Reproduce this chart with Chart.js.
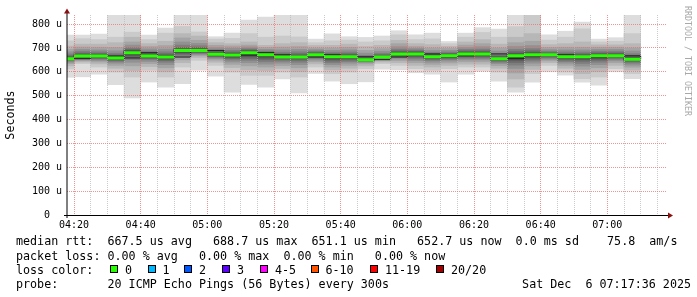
<!DOCTYPE html>
<html>
<head>
<meta charset="utf-8">
<script src="https://cdn.jsdelivr.net/npm/chart.js@4.4.1/dist/chart.umd.min.js"></script>
<style>
  body { margin: 0; background: #fff; overflow: hidden; }
  #wrap { position: relative; width: 697px; height: 297px; background: #fff; }
  #chart { position: absolute; left: 0; top: 0; }
  .txt { position: absolute; font-family: "DejaVu Sans Mono", monospace; font-size: 11.7px;
         line-height: 14px; color: #000; white-space: pre; }
  .box { position: absolute; width: 8px; height: 8px; box-sizing: border-box; border: 1px solid #000; }
  #mark { position: absolute; left: 683px; top: 6px; writing-mode: vertical-rl;
          font-family: "DejaVu Sans Mono", monospace; font-size: 8.3px; line-height: 9px; color: #a8a8a8; white-space: pre; }
</style>
</head>
<body>
<div id="wrap">
  <canvas id="chart" width="697" height="297"></canvas>
  <div id="mark">RRDTOOL / TOBI OETIKER</div>
  <div id="legend"></div>
</div>
<script>
// end time of each 5 minute sample (the bar covers the 5 minutes before it)
const times = ['04:20','04:25','04:30','04:35','04:40','04:45','04:50','04:55',
  '05:00','05:05','05:10','05:15','05:20','05:25','05:30','05:35','05:40','05:45','05:50','05:55',
  '06:00','06:05','06:10','06:15','06:20','06:25','06:30','06:35','06:40','06:45','06:50','06:55',
  '07:00','07:05','07:10'];

// median rtt per sample (microseconds)
const medians = [655,666,666,658,680,666,662,689,689,674,670,680,671,662,662,671,663,663,651,662,
  675,675,663,667,675,675,655,667,671,671,663,663,667,667,653];

// the 20 sorted ping times per sample (microseconds)
const pings = [
  [577,612,625,634,640,645,649,651,653,654,656,659,663,668,675,684,695,708,730,754],
  [579,634,641,646,650,654,657,660,663,665,667,670,674,679,686,694,704,716,739,754],
  [590,620,633,641,647,652,656,659,663,665,667,670,673,678,684,692,703,716,735,758],
  [546,599,615,627,636,642,647,651,654,657,659,662,666,671,678,688,702,722,745,905],
  [491,578,605,625,640,651,660,667,673,678,682,686,690,695,702,712,725,745,766,950],
  [557,606,622,634,643,650,655,659,663,666,668,671,675,680,687,696,706,718,735,754],
  [536,578,600,617,630,640,647,653,658,661,663,666,670,676,684,695,710,728,762,783],
  [550,620,638,650,660,667,673,678,683,688,690,693,697,703,712,725,742,760,790,880],
  [607,648,660,667,672,676,680,683,686,688,690,693,697,702,709,719,732,750,767,900],
  [582,627,640,649,655,660,664,667,670,673,675,678,682,687,693,701,711,722,737,747],
  [515,599,618,631,641,649,655,660,665,669,671,674,678,683,690,699,708,718,740,762],
  [547,585,608,625,638,648,656,663,670,679,681,685,688,692,697,704,712,725,760,817],
  [536,585,605,620,632,642,650,657,663,670,672,675,678,682,687,694,702,711,745,829],
  [570,599,614,626,636,644,650,655,659,661,663,666,670,675,682,692,704,718,750,870],
  [511,578,600,617,630,640,648,654,658,661,663,666,670,676,684,694,706,722,746,860],
  [593,620,633,642,649,655,660,664,668,670,672,675,678,682,687,693,700,710,722,737],
  [561,592,608,620,630,638,645,651,656,662,664,667,671,676,682,690,700,711,730,759],
  [550,599,615,627,636,643,649,654,658,662,664,667,671,676,683,692,703,716,733,747],
  [558,613,625,633,639,643,646,648,649,650,652,654,657,662,669,678,690,706,725,744],
  [611,634,641,647,651,655,658,660,661,662,663,665,668,672,678,686,697,711,730,750],
  [609,627,638,647,654,660,664,668,671,674,676,679,683,688,695,705,718,732,755,772],
  [596,613,627,638,647,654,660,665,670,674,676,679,683,687,692,698,706,718,735,755],
  [590,606,620,631,640,647,652,656,659,662,664,667,671,675,681,689,700,714,738,762],
  [557,613,627,637,645,651,656,660,663,666,668,671,674,678,683,690,698,707,718,727],
  [590,620,632,642,650,656,661,666,670,674,676,679,683,688,694,702,712,725,745,762],
  [602,620,632,642,650,656,661,666,670,674,676,679,683,688,695,705,718,735,765,785],
  [561,599,615,626,634,640,645,649,652,654,656,659,663,668,676,687,700,716,745,779],
  [515,536,570,595,614,628,639,648,656,665,669,673,678,685,694,706,722,745,790,900],
  [557,592,610,625,636,645,653,659,665,670,672,676,681,688,697,710,728,760,840,920],
  [600,627,638,646,652,657,661,665,668,670,672,674,677,681,686,693,702,714,733,755],
  [586,599,615,627,636,643,649,654,658,662,664,667,671,676,683,692,703,718,745,770],
  [557,571,592,610,624,635,644,651,657,662,664,667,671,676,683,692,703,725,780,808],
  [544,578,600,617,630,640,648,654,659,666,668,671,675,680,686,694,703,713,725,737],
  [600,613,627,638,646,652,657,661,664,666,668,671,675,680,686,694,703,713,728,743],
  [571,592,607,619,628,636,642,647,651,652,654,659,663,668,676,687,700,718,760,880]
];

const xTickLabels = ['04:20','04:40','05:00','05:20','05:40','06:00','06:20','06:40','07:00'];
const yTickLabels = ['0','100 u','200 u','300 u','400 u','500 u','600 u','700 u','800 u'];

const lossLabels = ['0','1','2','3','4-5','6-10','11-19','20/20'];
const lossColors = ['#26ff00','#00b8ff','#0059ff','#5e00ff','#ff00ff','#ff5500','#ff0000','#a10000'];

// smoke shades, outer pair of pings first
const smokeColors = ['#dddddd','#cacaca','#b7b7b7','#a4a4a4','#919191','#7e7e7e','#6b6b6b','#585858','#454545','#323232'];

const gridGray = 'rgba(186,186,186,0.75)';
const gridRed = 'rgba(240,110,110,0.75)';

// minutes after 04:20
function toMin(t) {
    const [h, m] = t.split(':').map(Number);
    return h * 60 + m - (4 * 60 + 20);
}
const ends = times.map(toMin);

const datasets = [];

// green median segments, one per sample
const greenData = [];
ends.forEach((e, i) => {
    greenData.push({ x: e - 5, y: medians[i] }, { x: e, y: medians[i] }, { x: e, y: null });
});
datasets.push({
    type: 'line', data: greenData, borderColor: lossColors[0], borderWidth: 3,
    borderCapStyle: 'butt', pointRadius: 0, spanGaps: false, order: 0, clip: 0
});

// thin dark step line through the medians
const stepData = [{ x: ends[0] - 5, y: medians[0] }].concat(ends.map((e, i) => ({ x: e, y: medians[i] })));
datasets.push({
    type: 'line', data: stepData, borderColor: '#202020', borderWidth: 1,
    stepped: 'before', pointRadius: 0, order: 1, clip: 0
});

// smoke: band k spans ping k to ping 20-k
smokeColors.forEach((c, k) => {
    datasets.push({
        type: 'bar',
        data: ends.map((e, i) => ({ x: e - 2.5, y: [pings[i][k], pings[i][19 - k]] })),
        backgroundColor: c, borderWidth: 0, grouped: false,
        barPercentage: 1, categoryPercentage: 1, order: 12 - k, clip: 0
    });
});

// axis lines with arrow heads
const axisArrows = {
    id: 'axisArrows',
    afterDraw(chart) {
        const { ctx, chartArea: a } = chart;
        ctx.save();
        ctx.lineWidth = 1;
        ctx.strokeStyle = '#000';
        ctx.beginPath();
        ctx.moveTo(a.left, a.bottom + 3);
        ctx.lineTo(a.left, a.top - 3);
        ctx.stroke();
        ctx.beginPath();
        ctx.moveTo(a.left - 3, a.bottom + 0.5);
        ctx.lineTo(a.right + 1, a.bottom + 0.5);
        ctx.stroke();
        ctx.fillStyle = '#8a1010';
        ctx.beginPath();
        ctx.moveTo(a.left, a.top - 6.5);
        ctx.lineTo(a.left - 3, a.top - 1.5);
        ctx.lineTo(a.left + 3, a.top - 1.5);
        ctx.closePath();
        ctx.fill();
        ctx.beginPath();
        ctx.moveTo(a.right + 6, a.bottom + 0.5);
        ctx.lineTo(a.right + 1, a.bottom - 2.5);
        ctx.lineTo(a.right + 1, a.bottom + 3.5);
        ctx.closePath();
        ctx.fill();
        ctx.restore();
    }
};

const axisFont = { family: 'DejaVu Sans Mono', size: 10 };

new Chart(document.getElementById('chart'), {
    type: 'bar',
    data: { datasets },
    options: {
        responsive: false,
        animation: false,
        layout: { padding: { left: 0, right: 30, top: 15, bottom: 0 } },
        plugins: { legend: { display: false }, tooltip: { enabled: false } },
        scales: {
            x: {
                type: 'linear',
                min: -2.1,
                max: 177.9,
                offset: false,
                afterBuildTicks: (s) => {
                    const t = [];
                    for (let v = 0; v <= 175; v += 5) t.push({ value: v });
                    s.ticks = t;
                },
                afterFit: (s) => { s.height = 82; },
                ticks: {
                    autoSkip: false, maxRotation: 0, minRotation: 0, padding: 4,
                    color: '#000', font: axisFont,
                    callback: (v) => (v % 20 === 0 ? xTickLabels[v / 20] : '')
                },
                grid: {
                    z: 1, offset: false, drawTicks: false,
                    color: (c) => (c.tick && c.tick.value % 20 === 0 ? gridRed : gridGray)
                },
                border: { display: false, dash: [1, 1] }
            },
            y: {
                min: 0,
                max: 838,
                afterBuildTicks: (s) => {
                    const t = [];
                    for (let v = 0; v <= 800; v += 50) t.push({ value: v });
                    s.ticks = t;
                },
                afterFit: (s) => { s.width = 67; },
                ticks: {
                    padding: 5, color: '#000', font: axisFont,
                    callback: (v) => {
                        if (v % 100 !== 0) return '';
                        const s = yTickLabels[v / 100];
                        return s === '0' ? '0  ' : s;
                    }
                },
                grid: {
                    z: 1, drawTicks: false,
                    color: (c) => (c.tick && c.tick.value % 100 === 0 ? gridRed : gridGray)
                },
                border: { display: false, dash: [1, 1] },
                title: {
                    display: true, text: 'Seconds', color: '#000',
                    font: { family: 'DejaVu Sans Mono', size: 11.7 }, padding: { top: 4, bottom: 0 }
                }
            }
        }
    },
    plugins: [axisArrows]
});

// legend lines under the graph
const legend = document.getElementById('legend');
function addText(str, left, top, right) {
    const d = document.createElement('div');
    d.className = 'txt';
    d.textContent = str;
    d.style.top = top + 'px';
    if (right !== undefined) d.style.right = right + 'px'; else d.style.left = left + 'px';
    legend.appendChild(d);
}
addText('median rtt:  667.5 us avg   688.7 us max  651.1 us min   652.7 us now  0.0 ms sd    75.8  am/s', 16, 234);
addText('packet loss: 0.00 % avg   0.00 % max  0.00 % min   0.00 % now', 16, 248.5);
addText('loss color:', 16, 262.5);
const boxX = [110, 147.5, 184, 222, 260, 310.5, 370, 436];
lossLabels.forEach((l, i) => {
    const b = document.createElement('div');
    b.className = 'box';
    b.style.left = boxX[i] + 'px';
    b.style.top = '265px';
    b.style.background = lossColors[i];
    legend.appendChild(b);
    addText(l, boxX[i] + 15, 262.5);
});
addText('probe:', 16, 277);
addText('20 ICMP Echo Pings (56 Bytes) every 300s', 107.5, 277);
addText('Sat Dec  6 07:17:36 2025', 0, 277, 6);
</script>
</body>
</html>
